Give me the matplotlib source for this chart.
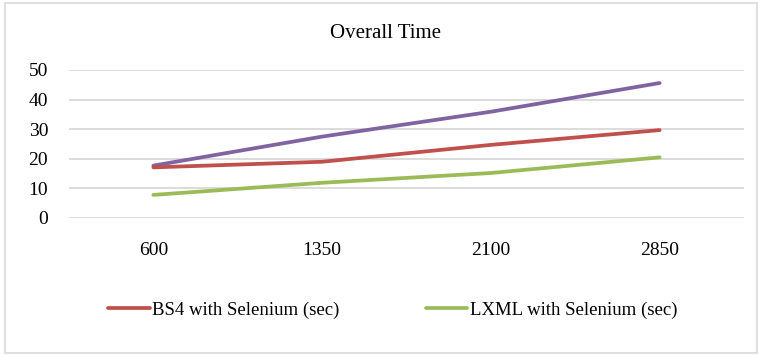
import matplotlib
matplotlib.use("Agg")
import matplotlib.pyplot as plt
from matplotlib.patches import Rectangle

categories = ["600", "1350", "2100", "2850"]
series_purple = [17.7, 27.5, 35.9, 45.6]
bs4_selenium = [17.1, 19.0, 24.7, 29.7]
lxml_selenium = [7.8, 11.9, 15.2, 20.5]
y_ticks = [0, 10, 20, 30, 40, 50]

plt.rcParams['font.family'] = ['Liberation Serif', 'DejaVu Serif']

fig = plt.figure(figsize=(7.59, 3.55), dpi=100)
fig.patches.append(Rectangle((0.007, 0.006), 0.99, 0.985, transform=fig.transFigure,
                             fill=False, edgecolor='#D9D9D9', linewidth=1.2))
ax = fig.add_axes([69/759, 1-218/355, (744-69)/759, (218-70)/355])

x = list(range(len(categories)))
ax.plot(x, series_purple, color='#8064A2', lw=2.7, solid_capstyle='round', label='_nolegend_', zorder=3)
ax.plot(x, bs4_selenium, color='#C0504D', lw=2.7, solid_capstyle='round', label='BS4 with Selenium (sec)', zorder=3)
ax.plot(x, lxml_selenium, color='#9BBB59', lw=2.7, solid_capstyle='round', label='LXML with Selenium (sec)', zorder=3)

ax.set_xlim(-0.5, len(categories) - 0.5)
ax.set_ylim(0, 50)
ax.set_yticks(y_ticks)
ax.set_xticks(x)
ax.set_xticklabels(categories)
ax.grid(axis='y', color='#D9D9D9', lw=1.3)
ax.set_axisbelow(True)
for s in ax.spines.values():
    s.set_visible(False)
ax.tick_params(length=0, labelsize=14, colors='black')
ax.tick_params(axis='x', pad=17)
ax.tick_params(axis='y', pad=15)

fig.text(386/759, 1-33/355, "Overall Time", ha='center', va='center', fontsize=15)

leg = fig.legend(loc='center', bbox_to_anchor=(393/759, 1-310/355), ncol=2, frameon=False,
                 fontsize=13.5, handlelength=2.2, handletextpad=0.15, columnspacing=4.6)

fig.savefig("out.png", dpi=100)
